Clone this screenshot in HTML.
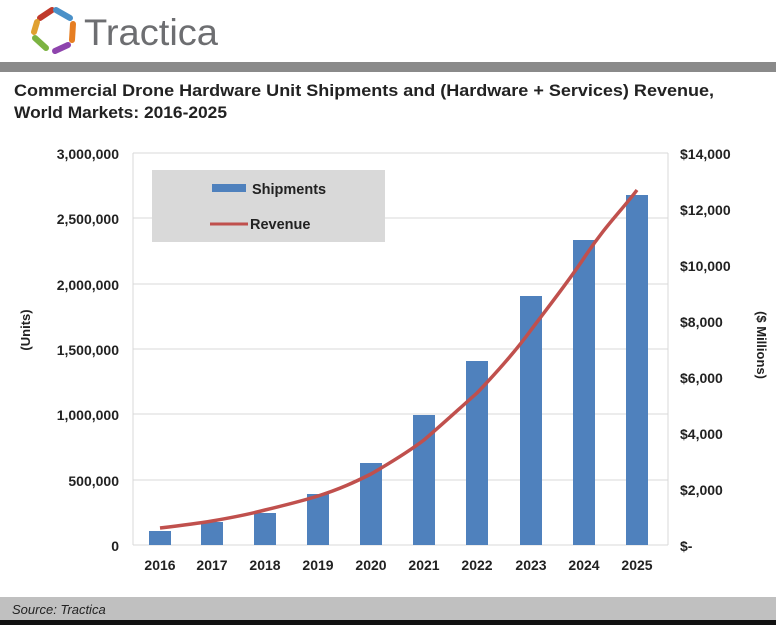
<!DOCTYPE html>
<html><head><meta charset="utf-8"><style>
body{margin:0;width:776px;height:625px;background:#fff;overflow:hidden;font-family:"Liberation Sans",Arial,sans-serif}
</style></head><body>
<svg width="776" height="625" viewBox="0 0 776 625" xmlns="http://www.w3.org/2000/svg" font-family="Liberation Sans, Arial, sans-serif">
<rect width="776" height="625" fill="#fff"/>
<g stroke-width="6" fill="none" stroke-linecap="round">
<path d="M40 18 L52 10" stroke="#c0392b"/>
<path d="M56 10 L70 18" stroke="#4a90c8"/>
<path d="M73 24 L72 40" stroke="#e67e22"/>
<path d="M68 45 L55 51" stroke="#8e44ad"/>
<path d="M46 48 L35 38" stroke="#7cb342"/>
<path d="M34 32 L37 22" stroke="#e0a030"/>
</g>
<text x="84" y="45" font-size="37" fill="#6d6e71" textLength="134" lengthAdjust="spacingAndGlyphs">Tractica</text>
<rect x="0" y="62" width="776" height="10" fill="#8a8a8a"/>
<text x="14" y="96" font-size="16.5" font-weight="bold" fill="#222" textLength="700" lengthAdjust="spacingAndGlyphs">Commercial Drone Hardware Unit Shipments and (Hardware + Services) Revenue,</text>
<text x="14" y="118" font-size="16.5" font-weight="bold" fill="#222" textLength="213" lengthAdjust="spacingAndGlyphs">World Markets: 2016-2025</text>
<g stroke="#d9d9d9" stroke-width="1">
<line x1="133" y1="153" x2="668" y2="153"/><line x1="133" y1="218" x2="668" y2="218"/>
<line x1="133" y1="284" x2="668" y2="284"/><line x1="133" y1="349" x2="668" y2="349"/>
<line x1="133" y1="414" x2="668" y2="414"/><line x1="133" y1="480" x2="668" y2="480"/>
<line x1="133" y1="545" x2="668" y2="545"/>
<line x1="133" y1="153" x2="133" y2="545"/><line x1="668" y1="153" x2="668" y2="545"/>
</g>
<g font-size="14" font-weight="bold" fill="#222" text-anchor="end">
<text x="119" y="159">3,000,000</text><text x="119" y="224">2,500,000</text>
<text x="119" y="290">2,000,000</text><text x="119" y="355">1,500,000</text>
<text x="119" y="420">1,000,000</text><text x="119" y="486">500,000</text>
<text x="119" y="551">0</text>
</g>
<g font-size="14" font-weight="bold" fill="#222" text-anchor="start">
<text x="680" y="159">$14,000</text><text x="680" y="215">$12,000</text>
<text x="680" y="271">$10,000</text><text x="680" y="327">$8,000</text>
<text x="680" y="383">$6,000</text><text x="680" y="439">$4,000</text>
<text x="680" y="495">$2,000</text><text x="680" y="551">$-</text>
</g>
<text transform="translate(30,330) rotate(-90)" font-size="13" font-weight="bold" text-anchor="middle" fill="#222">(Units)</text>
<text transform="translate(757,345) rotate(90)" font-size="13" font-weight="bold" text-anchor="middle" fill="#222">($ Millions)</text>
<g fill="#4f81bd">
<rect x="149" y="531" width="22" height="14"/>
<rect x="201" y="522" width="22" height="23"/>
<rect x="254" y="513" width="22" height="32"/>
<rect x="307" y="494" width="22" height="51"/>
<rect x="360" y="463" width="22" height="82"/>
<rect x="413" y="415" width="22" height="130"/>
<rect x="466" y="361" width="22" height="184"/>
<rect x="520" y="296" width="22" height="249"/>
<rect x="573" y="240" width="22" height="305"/>
<rect x="626" y="195" width="22" height="350"/>
</g>
<path d="M160 528 C185 525,200 523,212 521 C235 517,250 514,265 510 C290 504,305 500,318 496 C340 489,355 482,371 474 C390 463,408 452,424 440 C445 422,460 408,477 393 C498 371,515 352,531 330 C552 302,568 282,584 258 C605 226,622 210,637 190" fill="none" stroke="#c0504d" stroke-width="3.5"/>
<rect x="152" y="170" width="233" height="72" fill="#d9d9d9"/>
<rect x="212" y="184" width="34" height="8" fill="#4f81bd"/>
<text x="252" y="194" font-size="14.5" font-weight="bold" fill="#222">Shipments</text>
<line x1="210" y1="224" x2="248" y2="224" stroke="#c0504d" stroke-width="3"/>
<text x="250" y="229" font-size="14.5" font-weight="bold" fill="#222">Revenue</text>
<g font-size="14" font-weight="bold" fill="#222" text-anchor="middle">
<text x="160" y="570">2016</text><text x="212" y="570">2017</text><text x="265" y="570">2018</text>
<text x="318" y="570">2019</text><text x="371" y="570">2020</text><text x="424" y="570">2021</text>
<text x="477" y="570">2022</text><text x="531" y="570">2023</text><text x="584" y="570">2024</text>
<text x="637" y="570">2025</text>
</g>
<rect x="0" y="597" width="776" height="23" fill="#c0c0c0"/>
<rect x="0" y="620" width="776" height="5" fill="#111"/>
<text x="12" y="614" font-size="13" font-style="italic" fill="#222">Source: Tractica</text>
</svg>
</body></html>
